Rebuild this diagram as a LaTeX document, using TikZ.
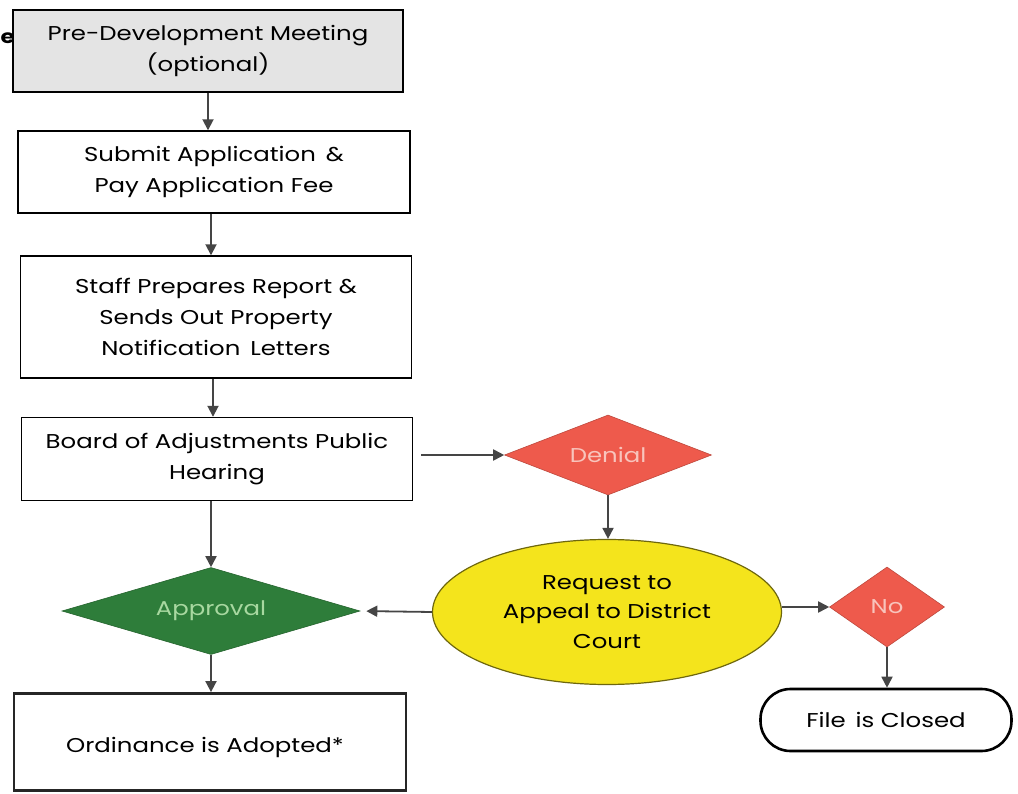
\documentclass[tikz,border=0pt]{standalone}
\usepackage{fontspec}
\setmainfont{Poppins}[FakeStretch=1.22]
\usetikzlibrary{shapes.geometric,arrows.meta}
\definecolor{boxgray}{HTML}{E4E4E4}
\definecolor{denred}{HTML}{EE5A4C}
\definecolor{dengreen}{HTML}{2E7D3A}
\definecolor{lgreen}{HTML}{A8D8A0}
\definecolor{lpink}{HTML}{F8C4BC}
\definecolor{ayellow}{HTML}{F4E41C}
\definecolor{arrgray}{HTML}{454545}
\begin{document}
\begin{tikzpicture}[x=1pt,y=-1pt,
  every node/.style={inner sep=0pt, align=center, font=\fontsize{20}{31}\selectfont},
  stepbox/.style={draw=black, line width=1.4pt, rectangle},
  decision/.style={diamond, line width=0.6pt, inner sep=0pt},
  arr/.style={draw=arrgray, line width=1.8pt, -{Triangle[length=11pt,width=11pt]}}]
\useasboundingbox (0,0) rectangle (1018,794);
\fill[white] (0,0) rectangle (1018,794);

\node[font=\fontsize{19}{22}\selectfont\bfseries, anchor=west] (frag) at (0.5,38) {e};

\node[stepbox, fill=boxgray, minimum width=390pt, minimum height=82pt] (b1) at (208,51)
  {Pre-Development Meeting\\(optional)};
\node[stepbox, minimum width=392pt, minimum height=82pt] (b2) at (214,172)
  {Submit Application \,\&\\Pay Application Fee};
\node[stepbox, minimum width=391pt, minimum height=122pt] (b3) at (216,317)
  {Staff Prepares Report \&\\Sends Out Property\\Notification \,Letters};
\node[stepbox, minimum width=391pt, minimum height=83pt] (b4) at (217,459)
  {Board of Adjustments Public\\Hearing};

\node[decision, aspect=2.6, fill=denred, draw=denred!80!black, minimum width=207pt, minimum height=80pt, text=lpink] (den) at (608,455) {Denial};
\node[decision, aspect=3.4, fill=dengreen, draw=dengreen!80!black, minimum width=298pt, minimum height=87pt, text=lgreen] (app) at (211,611) {Approval};
\node[ellipse, fill=ayellow, draw=ayellow!45!black, line width=1.2pt, minimum width=349pt, minimum height=145pt, font=\fontsize{20}{29.5}\selectfont] (req) at (607,612)
  {Request to\\Appeal to District\\Court};
\node[decision, aspect=1.44, fill=denred, draw=denred!80!black, minimum width=115pt, minimum height=80pt, text=lpink] (no) at (887,607) {No};
\node[draw=black, line width=2.6pt, rounded corners=30pt, minimum width=251pt, minimum height=62pt] (fc) at (886,720) {File \,is Closed};
\node[draw=black!85, line width=2.8pt, minimum width=392pt, minimum height=97pt] (ord) at (210,742) {};
\node (ordt) at (205,747) {Ordinance is Adopted*};

\draw[arr] (b1.south) -- (b2.north -| b1.south);
\draw[arr] ([xshift=-3pt]b2.south) -- ([xshift=-3pt]b2.south |- b3.north);
\draw[arr] ([xshift=-3pt]b3.south) -- ([xshift=-3pt]b3.south |- b4.north);
\draw[arr] (b4.south -| app.north) -- (app.north);
\draw[arr] (app.south) -- (ord.north -| app.south);
\draw[arr] ([xshift=8pt]b4.east |- den.west) -- (den.west);
\draw[arr] (den.south) -- (req.north -| den.south);
\draw[arr, shorten >=6pt] (req.west) -- (app.east);
\draw[arr] (req.east |- no.west) -- (no.west);
\draw[arr] (no.south) -- (no.south |- fc.north);
\end{tikzpicture}
\end{document}
